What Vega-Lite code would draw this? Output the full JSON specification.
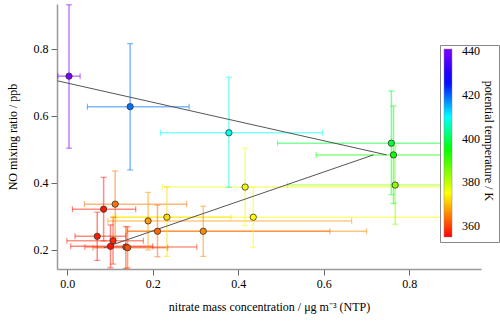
{
  "$schema": "https://vega.github.io/schema/vega-lite/v6.json",
  "width": 424,
  "height": 265,
  "autosize": {"type": "none"},
  "padding": {"left": 57, "top": 4, "right": 19, "bottom": 53},
  "background": "white",
  "config": {
    "view": {"stroke": null},
    "font": "Liberation Serif",
    "axis": {
      "domainColor": "#999999",
      "domainWidth": 1.5,
      "tickColor": "#666666",
      "tickWidth": 1,
      "tickSize": 6,
      "labelFont": "Liberation Serif",
      "labelFontSize": 12,
      "labelColor": "black",
      "labelPadding": 3,
      "titleFont": "Liberation Serif",
      "titleFontSize": 12,
      "titleFontWeight": "normal",
      "titleColor": "black",
      "grid": false
    }
  },
  "datasets": {
    "pts": [
      {"x": 0.004, "y": 0.718, "xlo": -0.022, "xhi": 0.030, "ylo": 0.503, "yhi": 0.931, "theta": 440},
      {"x": 0.147, "y": 0.627, "xlo": 0.047, "xhi": 0.285, "ylo": 0.438, "yhi": 0.815, "theta": 419},
      {"x": 0.378, "y": 0.549, "xlo": 0.218, "xhi": 0.597, "ylo": 0.386, "yhi": 0.715, "theta": 409},
      {"x": 0.758, "y": 0.518, "xlo": 0.492, "xhi": 0.962, "ylo": 0.364, "yhi": 0.674, "theta": 398},
      {"x": 0.763, "y": 0.483, "xlo": 0.582, "xhi": 0.963, "ylo": 0.338, "yhi": 0.629, "theta": 394},
      {"x": 0.767, "y": 0.393, "xlo": 0.515, "xhi": 0.960, "ylo": 0.276, "yhi": 0.510, "theta": 384},
      {"x": 0.416, "y": 0.387, "xlo": 0.222, "xhi": 0.922, "ylo": 0.272, "yhi": 0.503, "theta": 376},
      {"x": 0.435, "y": 0.297, "xlo": 0.105, "xhi": 0.943, "ylo": 0.207, "yhi": 0.386, "theta": 375},
      {"x": 0.233, "y": 0.297, "xlo": 0.115, "xhi": 0.383, "ylo": 0.180, "yhi": 0.388, "theta": 372},
      {"x": 0.189, "y": 0.286, "xlo": 0.095, "xhi": 0.665, "ylo": 0.199, "yhi": 0.371, "theta": 367},
      {"x": 0.318, "y": 0.255, "xlo": 0.140, "xhi": 0.700, "ylo": 0.180, "yhi": 0.330, "theta": 366},
      {"x": 0.211, "y": 0.255, "xlo": 0.140, "xhi": 0.614, "ylo": 0.179, "yhi": 0.333, "theta": 363},
      {"x": 0.112, "y": 0.336, "xlo": 0.040, "xhi": 0.279, "ylo": 0.235, "yhi": 0.435, "theta": 364},
      {"x": 0.085, "y": 0.321, "xlo": 0.012, "xhi": 0.160, "ylo": 0.226, "yhi": 0.416, "theta": 357},
      {"x": 0.070, "y": 0.240, "xlo": 0.018, "xhi": 0.137, "ylo": 0.168, "yhi": 0.312, "theta": 357},
      {"x": 0.107, "y": 0.227, "xlo": -0.001, "xhi": 0.178, "ylo": 0.157, "yhi": 0.297, "theta": 358},
      {"x": 0.101, "y": 0.210, "xlo": 0.008, "xhi": 0.200, "ylo": 0.146, "yhi": 0.274, "theta": 356},
      {"x": 0.137, "y": 0.208, "xlo": 0.041, "xhi": 0.303, "ylo": 0.144, "yhi": 0.269, "theta": 359},
      {"x": 0.141, "y": 0.206, "xlo": 0.060, "xhi": 0.235, "ylo": 0.146, "yhi": 0.268, "theta": 361}
    ],
    "lines": [
      {"s": "a", "x": -0.023, "y": 0.704},
      {"s": "a", "x": 0.747, "y": 0.483},
      {"s": "b", "x": 0.086, "y": 0.206},
      {"s": "b", "x": 0.716, "y": 0.483}
    ]
  },
  "data": {"name": "pts"},
  "layer": [
    {
      "mark": {"type": "rule", "strokeWidth": 1.5, "opacity": 0.5, "clip": true},
      "encoding": {
        "x": {"field": "xlo", "type": "quantitative", "scale": {"domain": [-0.0241, 0.9677], "nice": false, "zero": false}, "axis": {"title": "nitrate mass concentration / μg m⁻³ (NTP)", "values": [0, 0.2, 0.4, 0.6, 0.8], "format": ".1f", "titlePadding": 12}},
        "x2": {"field": "xhi"},
        "y": {"field": "y", "type": "quantitative", "scale": {"domain": [0.1424, 0.9334], "nice": false, "zero": false}, "axis": {"title": "NO mixing ratio / ppb", "values": [0.2, 0.4, 0.6, 0.8], "format": ".1f", "titlePadding": 14}},
        "stroke": {"field": "theta", "type": "quantitative", "scale": {"domain": [355, 375, 395, 410, 426, 441.001], "range": ["#ff0000", "#ffff00", "#00ff00", "#00ffff", "#0000ff", "#8000ff"], "interpolate": "rgb"}, "legend": null}
      }
    },
    {
      "mark": {"type": "rule", "strokeWidth": 1.5, "opacity": 0.5, "clip": true},
      "encoding": {
        "x": {"field": "x", "type": "quantitative", "scale": {"domain": [-0.0241, 0.9677], "nice": false, "zero": false}, "axis": {"title": "nitrate mass concentration / μg m⁻³ (NTP)", "values": [0, 0.2, 0.4, 0.6, 0.8], "format": ".1f", "titlePadding": 12}},
        "y": {"field": "ylo", "type": "quantitative", "scale": {"domain": [0.1424, 0.9334], "nice": false, "zero": false}, "axis": {"title": "NO mixing ratio / ppb", "values": [0.2, 0.4, 0.6, 0.8], "format": ".1f", "titlePadding": 14}},
        "y2": {"field": "yhi"},
        "stroke": {"field": "theta", "type": "quantitative", "scale": {"domain": [355, 375, 395, 410, 426, 441.001], "range": ["#ff0000", "#ffff00", "#00ff00", "#00ffff", "#0000ff", "#8000ff"], "interpolate": "rgb"}, "legend": null}
      }
    },
    {
      "mark": {"type": "tick", "orient": "vertical", "size": 6, "thickness": 1.2, "opacity": 0.5, "clip": true},
      "encoding": {
        "x": {"field": "xlo", "type": "quantitative", "scale": {"domain": [-0.0241, 0.9677], "nice": false, "zero": false}, "axis": {"title": "nitrate mass concentration / μg m⁻³ (NTP)", "values": [0, 0.2, 0.4, 0.6, 0.8], "format": ".1f", "titlePadding": 12}},
        "y": {"field": "y", "type": "quantitative", "scale": {"domain": [0.1424, 0.9334], "nice": false, "zero": false}, "axis": {"title": "NO mixing ratio / ppb", "values": [0.2, 0.4, 0.6, 0.8], "format": ".1f", "titlePadding": 14}},
        "fill": {"field": "theta", "type": "quantitative", "scale": {"domain": [355, 375, 395, 410, 426, 441.002], "range": ["#ff0000", "#ffff00", "#00ff00", "#00ffff", "#0000ff", "#8000ff"], "interpolate": "rgb"}, "legend": null}
      }
    },
    {
      "mark": {"type": "tick", "orient": "vertical", "size": 6, "thickness": 1.2, "opacity": 0.5, "clip": true},
      "encoding": {
        "x": {"field": "xhi", "type": "quantitative", "scale": {"domain": [-0.0241, 0.9677], "nice": false, "zero": false}, "axis": {"title": "nitrate mass concentration / μg m⁻³ (NTP)", "values": [0, 0.2, 0.4, 0.6, 0.8], "format": ".1f", "titlePadding": 12}},
        "y": {"field": "y", "type": "quantitative", "scale": {"domain": [0.1424, 0.9334], "nice": false, "zero": false}, "axis": {"title": "NO mixing ratio / ppb", "values": [0.2, 0.4, 0.6, 0.8], "format": ".1f", "titlePadding": 14}},
        "fill": {"field": "theta", "type": "quantitative", "scale": {"domain": [355, 375, 395, 410, 426, 441.002], "range": ["#ff0000", "#ffff00", "#00ff00", "#00ffff", "#0000ff", "#8000ff"], "interpolate": "rgb"}, "legend": null}
      }
    },
    {
      "mark": {"type": "tick", "orient": "horizontal", "size": 6, "thickness": 1.2, "opacity": 0.5, "clip": true},
      "encoding": {
        "x": {"field": "x", "type": "quantitative", "scale": {"domain": [-0.0241, 0.9677], "nice": false, "zero": false}, "axis": {"title": "nitrate mass concentration / μg m⁻³ (NTP)", "values": [0, 0.2, 0.4, 0.6, 0.8], "format": ".1f", "titlePadding": 12}},
        "y": {"field": "ylo", "type": "quantitative", "scale": {"domain": [0.1424, 0.9334], "nice": false, "zero": false}, "axis": {"title": "NO mixing ratio / ppb", "values": [0.2, 0.4, 0.6, 0.8], "format": ".1f", "titlePadding": 14}},
        "fill": {"field": "theta", "type": "quantitative", "scale": {"domain": [355, 375, 395, 410, 426, 441.002], "range": ["#ff0000", "#ffff00", "#00ff00", "#00ffff", "#0000ff", "#8000ff"], "interpolate": "rgb"}, "legend": null}
      }
    },
    {
      "mark": {"type": "tick", "orient": "horizontal", "size": 6, "thickness": 1.2, "opacity": 0.5, "clip": true},
      "encoding": {
        "x": {"field": "x", "type": "quantitative", "scale": {"domain": [-0.0241, 0.9677], "nice": false, "zero": false}, "axis": {"title": "nitrate mass concentration / μg m⁻³ (NTP)", "values": [0, 0.2, 0.4, 0.6, 0.8], "format": ".1f", "titlePadding": 12}},
        "y": {"field": "yhi", "type": "quantitative", "scale": {"domain": [0.1424, 0.9334], "nice": false, "zero": false}, "axis": {"title": "NO mixing ratio / ppb", "values": [0.2, 0.4, 0.6, 0.8], "format": ".1f", "titlePadding": 14}},
        "fill": {"field": "theta", "type": "quantitative", "scale": {"domain": [355, 375, 395, 410, 426, 441.002], "range": ["#ff0000", "#ffff00", "#00ff00", "#00ffff", "#0000ff", "#8000ff"], "interpolate": "rgb"}, "legend": null}
      }
    },
    {
      "data": {"name": "lines"},
      "mark": {"type": "line", "strokeWidth": 1, "color": "#555555", "clip": true},
      "encoding": {
        "x": {"field": "x", "type": "quantitative", "scale": {"domain": [-0.0241, 0.9677], "nice": false, "zero": false}, "axis": {"title": "nitrate mass concentration / μg m⁻³ (NTP)", "values": [0, 0.2, 0.4, 0.6, 0.8], "format": ".1f", "titlePadding": 12}},
        "y": {"field": "y", "type": "quantitative", "scale": {"domain": [0.1424, 0.9334], "nice": false, "zero": false}, "axis": {"title": "NO mixing ratio / ppb", "values": [0.2, 0.4, 0.6, 0.8], "format": ".1f", "titlePadding": 14}},
        "detail": {"field": "s", "type": "nominal"}
      }
    },
    {
      "mark": {"type": "circle", "size": 40, "opacity": 1, "stroke": "#333333", "strokeWidth": 0.8, "clip": true},
      "encoding": {
        "x": {"field": "x", "type": "quantitative", "scale": {"domain": [-0.0241, 0.9677], "nice": false, "zero": false}, "axis": {"title": "nitrate mass concentration / μg m⁻³ (NTP)", "values": [0, 0.2, 0.4, 0.6, 0.8], "format": ".1f", "titlePadding": 12}},
        "y": {"field": "y", "type": "quantitative", "scale": {"domain": [0.1424, 0.9334], "nice": false, "zero": false}, "axis": {"title": "NO mixing ratio / ppb", "values": [0.2, 0.4, 0.6, 0.8], "format": ".1f", "titlePadding": 14}},
        "color": {
          "field": "theta",
          "type": "quantitative",
          "scale": {"domain": [355, 375, 395, 410, 426, 441], "range": ["#ff0000", "#ffff00", "#00ff00", "#00ffff", "#0000ff", "#8000ff"], "interpolate": "rgb"},
          "legend": {
            "type": "gradient",
            "orient": "none",
            "legendX": 383,
            "legendY": 41,
            "direction": "vertical",
            "gradientLength": 188,
            "gradientThickness": 8,
            "gradientStrokeColor": "#888888",
            "gradientStrokeWidth": 0.5,
            "title": "potential temperature / K",
            "titleOrient": "right",
            "titleAngle": 90,
            "titleAnchor": "middle",
            "titleFont": "Liberation Serif",
            "titleFontSize": 12,
            "titleFontWeight": "normal",
            "titleColor": "black",
            "titlePadding": 2,
            "labelFont": "Liberation Serif",
            "labelFontSize": 12,
            "labelColor": "black",
            "labelOffset": 10,
            "values": [360, 380, 400, 420, 440],
            "strokeColor": "#888888",
            "fillColor": "white",
            "padding": 4
          }
        }
      }
    }
  ]
}
